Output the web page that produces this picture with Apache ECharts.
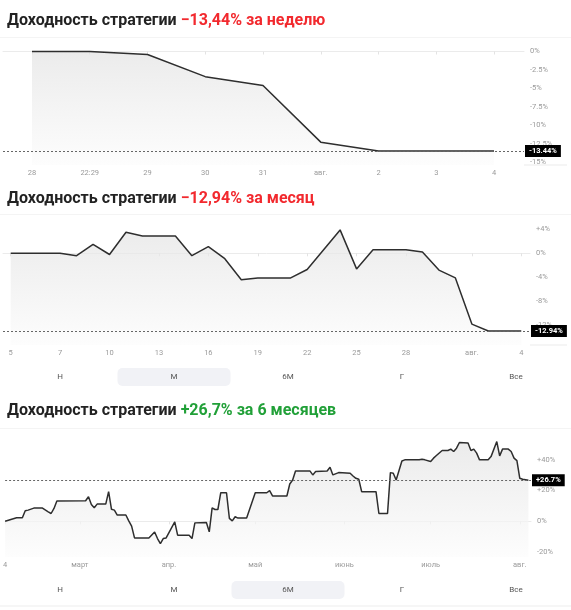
<!DOCTYPE html>
<html><head><meta charset="utf-8">
<script src="https://cdn.jsdelivr.net/npm/echarts@6/dist/echarts.min.js"></script>
<style>html,body{margin:0;padding:0;background:#fff}#c{width:571px;height:610px}</style>
</head><body><div id="c"></div>
<script>
// ---- data ----
const titleBase = 'Доходность стратегии ';
const titleResults = ['−13,44% за неделю', '−12,94% за месяц', '+26,7% за 6 месяцев'];
const titleColors = ['#f2292e', '#f2292e', '#21a038'];
const lastValues = [-13.44, -12.94, 26.7];

const weekLabels = ['28', '22:29', '29', '30', '31', 'авг.', '2', '3', '4'];
const weekValues = [0, 0, -0.4, -3.4, -4.6, -12.25, -13.44, -13.44, -13.44];
const weekYTicks = [0, -2.5, -5, -7.5, -10, -12.5, -15];

const monthLabels = ['5', '7', '10', '13', '16', '19', '22', '25', '28', 'авг.', '4'];
const monthLabelIdx = [0, 3, 6, 9, 12, 15, 18, 21, 24, 28, 31];
const monthValues = [0, 0, 0, 0, -0.4, 1.5, -0.2, 3.5, 2.9, 2.9, 2.9, -0.4, 1.1, -0.9, -4.4, -4.1,
  -4.1, -4.1, -2.7, 0.6, 3.9, -2.6, 0.6, 0.6, 0.6, 0.2, -2.8, -4.1, -11.8, -12.94, -12.94, -12.94];
const monthYTicks = [4, 0, -4, -8, -12];

const halfLabels = ['4', 'март', 'апр.', 'май', 'июнь', 'июль', 'авг.'];
const halfLabelDays = [0, 26, 57, 87, 118, 148, 179];
const halfDays = [0, 2, 4, 6, 7, 8, 10, 13, 15, 16, 17, 18, 28, 29, 30, 31, 32, 35, 36, 37, 38, 39, 42, 43, 44, 45,
  50, 52, 53, 54, 55, 56, 59, 60, 64, 65, 66, 70, 71, 72, 73, 74, 75, 77, 78, 79, 80, 81, 84, 87, 91, 92, 93, 98,
  99, 100, 101, 106, 107, 108, 110, 112, 113, 114, 116, 120, 121, 122, 123, 124, 129, 130, 133, 134, 135, 136,
  138, 139, 144, 145, 146, 148, 149, 150, 152, 154, 155, 156, 157, 158, 161, 162, 163, 164, 165, 168, 169, 171,
  172, 173, 175, 176, 177, 178, 179, 180, 182];
const halfValues = [0, 1.2, 2.3, 2.3, 6.9, 7.3, 8.6, 8.6, 6.2, 5.1, 8.4, 13.2, 13.4, 16.0, 11.0, 8.8, 11.2, 11.2,
  19.3, 7.8, 7.3, 4.1, 4.1, 0.3, -3.1, -10.8, -10.8, -6.9, -11.2, -14.5, -11.2, -10.8, -0.3, -9.0, -9.0, -11.2,
  -1.0, -0.7, -6.8, 8.8, 7.7, 7.7, 18.6, 18.6, 1.9, 0.3, 3.0, 2.1, 2.1, 18.6, 18.6, 20.0, 16.5, 16.5, 24.3, 26.9,
  32.8, 32.8, 30.2, 32.4, 32.6, 32.8, 35.2, 30.2, 31.7, 31.3, 29.5, 28.0, 27.4, 19.3, 19.3, 5.1, 5.1, 31.7, 31.3,
  26.9, 39.3, 40.0, 40.0, 40.4, 40.0, 38.9, 41.1, 42.8, 46.1, 46.1, 47.0, 45.4, 47.6, 51.3, 50.9, 46.1, 47.0,
  44.4, 40.0, 40.0, 42.1, 51.9, 42.6, 47.0, 47.0, 45.4, 41.1, 39.5, 28.0, 27.4, 26.7];
const halfYTicks = [40, 20, 0, -20];

const rangeButtons = ['Н', 'М', '6М', 'Г', 'Все'];

// ---- layout ----
const FONT = 'Roboto';
const grids = [
  {left: 3, top: 38, width: 521, height: 127},
  {left: 3, top: 215, width: 527, height: 130},
  {left: 3, top: 429, width: 528, height: 128}
];
const xRanges = [[-0.502, 8.519], [-0.4675, 31.53], [0, 182.9]];
const yRanges = [[-15.34, 1.824], [-15.283, 6.383], [-23.2, 60.07]];
const yTickSets = [weekYTicks, monthYTicks, halfYTicks];
const xTickSets = [weekLabels.map((_, i) => i), monthLabelIdx, halfLabelDays];
const xLabelSets = [weekLabels, monthLabels, halfLabels];
const seriesData = [
  weekValues.map((v, i) => [i, v]),
  monthValues.map((v, i) => [i, v]),
  halfDays.map((d, i) => [d, halfValues[i]])
];
const titleTops = [8, 186, 398];

const fmtPct = v => (v > 0 ? '+' : '') + String(v) + '%';

const option = {
  animation: false,
  backgroundColor: '#fff',
  textStyle: {fontFamily: FONT},
  title: titleTops.map((t, i) => ({
    left: 2, top: t,
    text: '{a|' + titleBase + '}{b|' + titleResults[i] + '}',
    textStyle: {
      rich: {
        a: {fontFamily: FONT, fontSize: 16, fontWeight: 'bold', color: '#222'},
        b: {fontFamily: FONT, fontSize: 16, fontWeight: 'bold', color: titleColors[i]}
      }
    }
  })),
  grid: grids,
  xAxis: grids.map((g, i) => ({
    type: 'value', gridIndex: i, min: xRanges[i][0], max: xRanges[i][1],
    splitLine: {show: false},
    axisLine: {show: true, lineStyle: {color: '#ebebeb', width: 1}},
    axisTick: {show: true, customValues: xTickSets[i], length: 3, lineStyle: {color: '#e3e3e3'}},
    axisLabel: {
      customValues: xTickSets[i], margin: 4, fontSize: 7.5, color: '#9a9a9a', fontFamily: FONT,
      formatter: v => { const k = xTickSets[i].indexOf(v); return k >= 0 ? xLabelSets[i][k] : ''; }
    }
  })),
  yAxis: grids.map((g, i) => ({
    type: 'value', gridIndex: i, position: 'right', min: yRanges[i][0], max: yRanges[i][1],
    splitLine: {show: false}, axisLine: {show: false}, axisTick: {show: false},
    axisLabel: {customValues: yTickSets[i], margin: 6, fontSize: 7.5, color: '#9a9a9a', fontFamily: FONT,
      formatter: fmtPct}
  })),
  series: seriesData.map((d, i) => ({
    type: 'line', xAxisIndex: i, yAxisIndex: i, data: d,
    showSymbol: false, symbol: 'none',
    lineStyle: {color: '#2e2e2e', width: 1.5},
    areaStyle: {
      origin: 'start',
      color: new echarts.graphic.LinearGradient(0, 0, 0, 1, [
        {offset: 0, color: '#e3e3e3'}, {offset: 1, color: '#fcfcfc'}
      ])
    },
    markLine: {
      silent: true, symbol: ['none', 'none'],
      lineStyle: {type: [2, 2], color: '#666', width: 1},
      label: {
        position: 'end', distance: 1, formatter: () => fmtPct(lastValues[i]),
        color: '#fff', backgroundColor: '#000', padding: [2, 4, 2, 4],
        fontSize: 7.5, fontWeight: 'bold', fontFamily: FONT
      },
      data: [{yAxis: lastValues[i]}]
    }
  })),
  graphic: []
};

// separators
[38, 215, 429].forEach(y => option.graphic.push({
  type: 'rect', shape: {x: 0, y: y - 1, width: 571, height: 1}, style: {fill: '#f4f4f4'}, silent: true
}));
option.graphic.push({type: 'rect', shape: {x: 0, y: 605, width: 571, height: 2}, style: {fill: '#f6f6f6'}, silent: true});
// axis base line continues under the price scale
[[524, 165], [530, 345]].forEach(p => option.graphic.push({
  type: 'rect', shape: {x: p[0], y: p[1] - 0.5, width: 567 - p[0], height: 1}, style: {fill: '#ebebeb'}, silent: true, z: -1
}));

// range buttons
const btnRows = [{y: 377, active: 1}, {y: 590, active: 2}];
btnRows.forEach(row => {
  rangeButtons.forEach((b, k) => {
    const cx = 60 + k * 114;
    if (k === row.active) {
      option.graphic.push({type: 'rect', shape: {x: cx - 56.5, y: row.y - 9, width: 113, height: 18, r: 5},
        style: {fill: '#f1f2f6'}, silent: true});
    }
    option.graphic.push({type: 'text', x: cx, y: row.y,
      style: {text: b, fill: '#555', font: '8px ' + FONT, textAlign: 'center', textVerticalAlign: 'middle'},
      silent: true});
  });
});

const chart = echarts.init(document.getElementById('c'), null, {renderer: 'canvas'});
chart.setOption(option);
</script></body></html>
